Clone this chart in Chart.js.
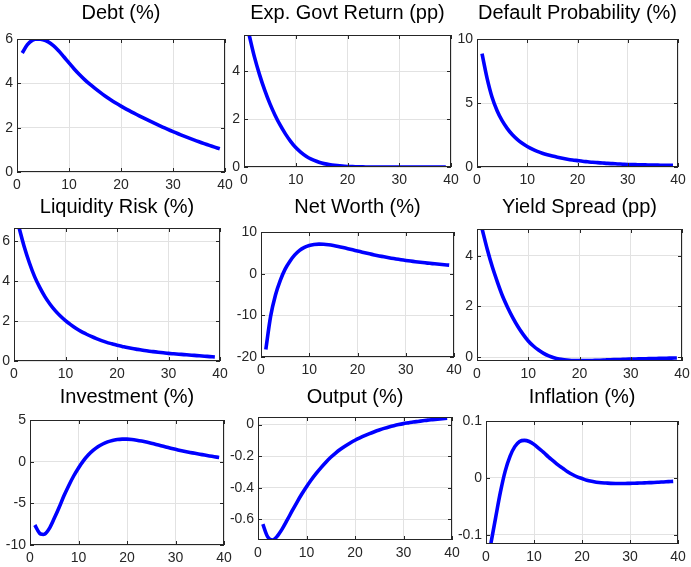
<!DOCTYPE html>
<html>
<head>
<meta charset="utf-8">
<title>Impulse responses</title>
<script src="https://cdn.jsdelivr.net/npm/chart.js@4.4.1/dist/chart.umd.min.js"></script>
<style>
  html, body { margin: 0; padding: 0; background: #ffffff; }
  body { position: relative; width: 691px; height: 567px; overflow: hidden; }
  canvas { position: absolute; }
</style>
</head>
<body>
<script>
// Horizon (quarters) shared by every panel
const periods = [1,2,3,4,5,6,7,8,9,10,11,12,13,14,15,16,17,18,19,20,21,22,23,24,25,26,27,28,29,30,31,32,33,34,35,36,37,38,39];
const xTicks = [0, 10, 20, 30, 40];

// Responses, one array per variable
const debt = [5.37,5.75,5.95,6.0,5.97,5.87,5.7,5.47,5.2,4.92,4.65,4.4,4.17,3.96,3.77,3.59,3.42,3.26,3.11,2.97,2.84,2.715,2.593,2.474,2.358,2.245,2.135,2.028,1.924,1.823,1.725,1.63,1.538,1.449,1.363,1.28,1.2,1.123,1.049];
const govtReturn = [5.5,4.6,3.85,3.2,2.64,2.16,1.74,1.38,1.07,0.81,0.61,0.45,0.33,0.24,0.17,0.12,0.085,0.058,0.038,0.024,0.014,0.008,0.004,0.002,0.001,0,0,0,0,0,0,0,0,0,0,0,0,0,0];
const defaultProb = [8.85,6.95,5.45,4.4,3.62,3.02,2.54,2.16,1.85,1.6,1.39,1.22,1.07,0.95,0.85,0.76,0.68,0.61,0.55,0.5,0.45,0.41,0.37,0.34,0.31,0.28,0.26,0.24,0.22,0.2,0.19,0.18,0.17,0.16,0.15,0.145,0.14,0.135,0.13];
const liquidityRisk = [6.65,5.7,4.9,4.22,3.68,3.22,2.84,2.52,2.25,2.02,1.82,1.64,1.48,1.35,1.23,1.12,1.02,0.93,0.86,0.79,0.73,0.67,0.62,0.58,0.54,0.5,0.47,0.44,0.41,0.38,0.36,0.34,0.32,0.3,0.28,0.26,0.24,0.22,0.2];
const netWorth = [-18.2,-10.2,-5.1,-1.6,1.1,3.0,4.5,5.6,6.3,6.75,7.0,7.1,7.05,6.92,6.74,6.52,6.27,6.0,5.72,5.44,5.16,4.89,4.63,4.38,4.15,3.93,3.72,3.53,3.35,3.18,3.02,2.87,2.73,2.6,2.48,2.36,2.25,2.14,2.04];
const yieldSpread = [5.05,4.25,3.55,2.95,2.4,1.95,1.55,1.2,0.9,0.64,0.44,0.28,0.15,0.05,-0.02,-0.07,-0.1,-0.12,-0.13,-0.135,-0.135,-0.13,-0.125,-0.12,-0.11,-0.1,-0.095,-0.09,-0.08,-0.075,-0.07,-0.065,-0.06,-0.055,-0.05,-0.045,-0.04,-0.035,-0.03];
const investment = [-7.6,-8.6,-8.7,-8.0,-6.8,-5.5,-4.1,-2.85,-1.72,-0.75,0.1,0.8,1.35,1.8,2.12,2.37,2.55,2.65,2.7,2.7,2.66,2.58,2.48,2.36,2.22,2.07,1.92,1.77,1.62,1.48,1.35,1.23,1.11,1.0,0.9,0.79,0.69,0.59,0.5];
const output = [-0.63,-0.71,-0.73,-0.705,-0.66,-0.605,-0.548,-0.493,-0.441,-0.393,-0.349,-0.309,-0.272,-0.238,-0.207,-0.18,-0.156,-0.135,-0.116,-0.099,-0.084,-0.07,-0.057,-0.045,-0.034,-0.024,-0.015,-0.007,0.0,0.006,0.011,0.016,0.02,0.024,0.028,0.031,0.034,0.037,0.04];
const inflation = [-0.116,-0.07,-0.025,0.012,0.038,0.055,0.064,0.066,0.064,0.059,0.052,0.045,0.037,0.03,0.023,0.017,0.011,0.006,0.002,-0.001,-0.004,-0.006,-0.0075,-0.0085,-0.009,-0.0095,-0.0098,-0.0098,-0.0097,-0.0095,-0.0092,-0.009,-0.0087,-0.0083,-0.008,-0.0075,-0.007,-0.0065,-0.006];

// Panel titles
const titles = ['Debt (%)', 'Exp. Govt Return (pp)', 'Default Probability (%)',
                'Liquidity Risk (%)', 'Net Worth (%)', 'Yield Spread (pp)',
                'Investment (%)', 'Output (%)', 'Inflation (%)'];
const series = [debt, govtReturn, defaultProb, liquidityRisk, netWorth, yieldSpread, investment, output, inflation];

// Y-axis tick labels per panel
const yTicks = [
  [0, 2, 4, 6],
  [0, 2, 4],
  [0, 5, 10],
  [0, 2, 4, 6],
  [-20, -10, 0, 10],
  [0, 2, 4],
  [-10, -5, 0, 5],
  [-0.6, -0.4, -0.2, 0],
  [-0.1, 0, 0.1]
];
// Y-axis limits per panel (tight around each response)
const yMin = [0, 0, 0, 0, -20, -0.15, -10, -0.73, -0.116];
const yMax = [6, 5.5, 10, 6.65, 10, 5.05, 5, 0.048, 0.1];

// Plot-area rectangles on the page: [left, top, right, bottom]
const plotRects = [
  [17, 39, 225, 172], [244, 35, 451, 167], [477, 39, 678, 167],
  [14, 228, 220, 361], [261, 232, 454, 357], [477, 229, 682, 361],
  [30, 420, 224, 545], [258, 417, 452, 540], [486, 421, 678, 544]
];
// Title baseline per row
const titleBaselines = [19, 212.5, 402.5];

const FONT = "'Liberation Sans', Arial, Helvetica, sans-serif";
const AXIS_COLOR = '#262626';
const GRID_COLOR = '#e2e2e2';
const PAD_L = 50, PAD_T = 45, PAD_R = 16, PAD_B = 26;

// Box around the axes with inward tick marks on all four sides
const axesBox = {
  id: 'axesBox',
  afterDatasetsDraw(chart) {
    const { ctx, chartArea: a, scales } = chart;
    const L = Math.round(a.left), R = Math.round(a.right), T = Math.round(a.top), B = Math.round(a.bottom);
    ctx.save();
    ctx.strokeStyle = AXIS_COLOR;
    ctx.lineWidth = 1;
    ctx.strokeRect(L + 0.5, T + 0.5, R - L - 1, B - T - 1);
    const len = 4;
    ctx.beginPath();
    scales.x.ticks.forEach(t => {
      const px = Math.round(scales.x.getPixelForValue(t.value)) + 0.5;
      ctx.moveTo(px, B); ctx.lineTo(px, B - len);
      ctx.moveTo(px, T); ctx.lineTo(px, T + len);
    });
    scales.y.ticks.forEach(t => {
      const py = Math.round(scales.y.getPixelForValue(t.value)) + 0.5;
      ctx.moveTo(L, py); ctx.lineTo(L + len, py);
      ctx.moveTo(R, py); ctx.lineTo(R - len, py);
    });
    ctx.stroke();
    ctx.restore();
  }
};

// Title centred over the plot area at a fixed baseline
const panelTitle = {
  id: 'panelTitle',
  afterDraw(chart, args, opts) {
    const { ctx, chartArea: a } = chart;
    ctx.save();
    ctx.fillStyle = '#000000';
    ctx.font = '20px ' + FONT;
    ctx.textAlign = 'center';
    ctx.textBaseline = 'alphabetic';
    ctx.fillText(opts.text, (a.left + a.right) / 2, opts.baseline);
    ctx.restore();
  }
};

plotRects.forEach((rect, i) => {
  const [l, t, r, b] = rect;
  const cv = document.createElement('canvas');
  const w = r - l + PAD_L + PAD_R;
  const h = b - t + PAD_T + PAD_B;
  const left = l - PAD_L, top = t - PAD_T;
  cv.width = w; cv.height = h;
  cv.style.width = w + 'px'; cv.style.height = h + 'px';
  cv.style.left = left + 'px'; cv.style.top = top + 'px';
  document.body.appendChild(cv);

  const ticksY = yTicks[i];
  new Chart(cv, {
    type: 'line',
    data: {
      datasets: [{
        data: periods.map((p, k) => ({ x: p, y: series[i][k] })),
        borderColor: '#0000ff',
        borderWidth: 3.6,
        pointRadius: 0,
        fill: false,
        tension: 0.3
      }]
    },
    options: {
      responsive: false,
      animation: false,
      devicePixelRatio: 1,
      layout: { padding: { left: 0, top: PAD_T, right: PAD_R, bottom: 0 } },
      plugins: {
        legend: { display: false },
        tooltip: { enabled: false },
        panelTitle: { text: titles[i], baseline: titleBaselines[Math.floor(i / 3)] - top }
      },
      scales: {
        x: {
          type: 'linear',
          min: 0, max: 40,
          afterBuildTicks: s => { s.ticks = xTicks.map(v => ({ value: v })); },
          afterFit: s => { s.height = PAD_B; },
          grid: { color: GRID_COLOR, lineWidth: 1, drawTicks: false },
          border: { display: false },
          ticks: {
            color: AXIS_COLOR, font: { family: FONT, size: 14 },
            padding: 5, maxRotation: 0, autoSkip: false,
            callback: v => String(v)
          }
        },
        y: {
          type: 'linear',
          min: yMin[i], max: yMax[i],
          afterBuildTicks: s => { s.ticks = ticksY.map(v => ({ value: v })); },
          afterFit: s => { s.width = PAD_L; },
          grid: { color: GRID_COLOR, lineWidth: 1, drawTicks: false },
          border: { display: false },
          ticks: {
            color: AXIS_COLOR, font: { family: FONT, size: 14 },
            padding: 4, autoSkip: false,
            callback: v => String(v)
          }
        }
      }
    },
    plugins: [axesBox, panelTitle]
  });
});
</script>
</body>
</html>
